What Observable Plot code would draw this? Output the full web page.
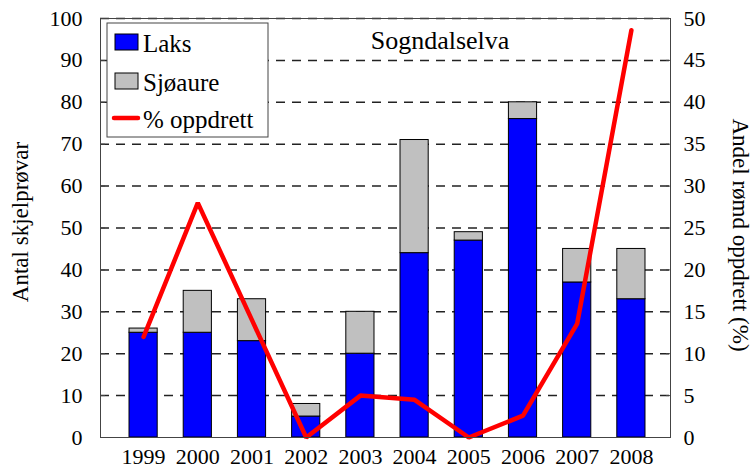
<!DOCTYPE html>
<html><head><meta charset="utf-8">
<script src="https://cdn.jsdelivr.net/npm/d3@7"></script>
<script src="https://cdn.jsdelivr.net/npm/@observablehq/plot@0.6"></script>
<style>
body{margin:0;background:#fff;}
#wrap{position:relative;width:752px;height:468px;overflow:hidden;font-family:"Liberation Serif","DejaVu Serif","Times New Roman",serif;}
#wrap svg{position:absolute;left:0;top:0;}
#wrap svg text{font-family:"Liberation Serif","DejaVu Serif","Times New Roman",serif !important;}
</style></head><body><div id="wrap"></div>
<script>
// ---- data ----
const years = ["1999","2000","2001","2002","2003","2004","2005","2006","2007","2008"];
const laks = [25, 25, 23, 5, 20, 44, 47, 76, 37, 33];
const sjoaure = [1, 10, 10, 3, 10, 27, 2, 4, 8, 12];
const pctOppdrett = [12, 28, 14, 0, 5, 4.5, 0, 2.6, 13.6, 48.6];
const seriesNames = ["Laks", "Sjøaure", "% oppdrett"];
const seriesColors = ["#0000ff", "#c0c0c0", "#ff0000"];
const leftTicks = [0,10,20,30,40,50,60,70,80,90,100];
const rightTicks = [0,5,10,15,20,25,30,35,40,45,50];
const chartTitle = "Sogndalselva";
const yLeftLabel = "Antal skjelprøvar";
const yRightLabel = "Andel rømd oppdrett (%)";

const FONT = '"Liberation Serif","DejaVu Serif","Times New Roman",serif';

const rows = [];
years.forEach((yr, i) => rows.push({year: yr, series: seriesNames[0], n: laks[i]}));
years.forEach((yr, i) => rows.push({year: yr, series: seriesNames[1], n: sjoaure[i]}));
const pctRows = years.map((yr, i) => ({year: yr, pct: pctOppdrett[i]}));

const chart = Plot.plot({
  width: 752, height: 468,
  marginTop: 18, marginBottom: 31, marginLeft: 100, marginRight: 82,
  style: {fontFamily: FONT, fontSize: "22px", color: "#000", background: "#fff", overflow: "visible"},
  x: {domain: years, range: [116, 658], paddingInner: 0.48, paddingOuter: 0.24, round: false, axis: null},
  y: {domain: [0, 100], axis: null},
  color: {domain: seriesNames.slice(0, 2), range: seriesColors.slice(0, 2)},
  marks: [
    Plot.ruleY(leftTicks.filter(d => d > 0), {stroke: "#222", strokeWidth: 1.5, strokeDasharray: "9,7"}),
    Plot.barY(rows, {x: "year", y: "n", fill: "series", stroke: "#000", strokeWidth: 1}),
    Plot.line(pctRows, {x: "year", y: d => d.pct * 2, stroke: seriesColors[2], strokeWidth: 4.5, strokeLinejoin: "miter"}),
    Plot.frame({stroke: "#444"}),
    Plot.axisX(years, {anchor: "bottom", tickSize: 0, tickPadding: 11, label: null}),
    Plot.axisY(leftTicks, {anchor: "left", tickSize: -5, tickPadding: 23, label: null, stroke: "#444"}),
    Plot.axisY(rightTicks.map(d => d * 2), {anchor: "right", tickSize: -5, tickPadding: 18, tickFormat: d => String(d / 2), label: null, stroke: "#444"})
  ]
});
document.getElementById("wrap").appendChild(chart);

// ---- overlay: titles and legend ----
const ov = d3.select("#wrap").append("svg")
  .attr("width", 752).attr("height", 468)
  .attr("font-family", FONT).style("pointer-events", "none");

ov.append("text").attr("x", 440).attr("y", 49).attr("text-anchor", "middle")
  .attr("font-size", 26).attr("fill", "#000").text(chartTitle);

ov.append("text").attr("transform", "translate(28,222) rotate(-90)").attr("text-anchor", "middle")
  .attr("font-size", 23).attr("fill", "#000").text(yLeftLabel);

ov.append("text").attr("transform", "translate(733,235) rotate(90)").attr("text-anchor", "middle")
  .attr("font-size", 23).attr("fill", "#000").text(yRightLabel);

const lg = ov.append("g");
lg.append("rect").attr("x", 107).attr("y", 23).attr("width", 161).attr("height", 114)
  .attr("fill", "#fff").attr("stroke", "#444").attr("stroke-width", 1);
const rowY = [42, 81, 118];
seriesNames.forEach((name, i) => {
  if (i < 2) {
    lg.append("rect").attr("x", 115).attr("y", rowY[i] - 8).attr("width", 23).attr("height", 16)
      .attr("fill", seriesColors[i]).attr("stroke", "#000").attr("stroke-width", 1);
  } else {
    lg.append("line").attr("x1", 114).attr("x2", 138).attr("y1", rowY[i]).attr("y2", rowY[i])
      .attr("stroke", seriesColors[i]).attr("stroke-width", 4.5).attr("stroke-linecap", "round");
  }
  lg.append("text").attr("x", 143).attr("y", rowY[i] + 10).attr("font-size", 25).attr("fill", "#000").text(name);
});
</script>
</body></html>
